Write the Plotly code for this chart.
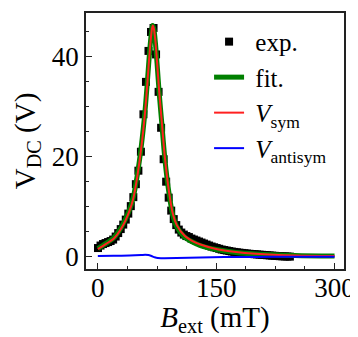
import plotly.graph_objects as go

# Experimental data (B in mT, V_DC in V)
exp_B = [0.2, 3.4, 6.6, 9.8, 13.0, 16.2, 19.4, 22.6, 25.8, 29.0, 32.2, 35.4, 38.6, 41.8,
         45.0, 48.2, 51.4, 54.6, 57.8, 61.0, 64.2, 67.4, 70.6, 73.8, 77.0, 80.2, 83.4,
         86.6, 89.8, 93.0, 96.2, 99.4, 102.6, 105.8, 109.0, 112.2, 115.4, 118.6, 121.8,
         125.0, 128.2, 131.4, 134.6, 137.8, 141.0, 144.2, 147.4, 150.6, 153.8, 157.0,
         160.2, 163.4, 166.6, 169.8, 173.0, 176.2, 179.4, 182.6, 185.8, 189.0, 192.2,
         195.4, 198.6, 201.8, 205.0, 208.2, 211.4, 214.6, 217.8, 221.0, 224.2, 227.4,
         230.6, 233.8, 237.0, 240.2, 243.4]
exp_V = [1.7, 2.2, 2.5, 2.7, 2.9, 3.1, 3.4, 4.0, 4.7, 5.5, 6.4, 7.4, 8.6, 10.1,
         11.9, 14.5, 17.2, 21.0, 28.5, 35.0, 41.2, 45.0, 45.8, 40.5, 33.0, 25.8, 19.5,
         15.0, 11.8, 9.2, 7.5, 6.3, 5.4, 4.8, 4.4, 4.1, 3.9, 3.6, 3.4,
         3.2, 3.0, 2.8, 2.6, 2.4, 2.2, 2.0, 1.85, 1.7, 1.55, 1.4,
         1.3, 1.2, 1.1, 1.0, 0.92, 0.85, 0.78, 0.72, 0.66, 0.6, 0.55,
         0.5, 0.46, 0.42, 0.38, 0.34, 0.3, 0.26, 0.22, 0.18, 0.14, 0.1,
         0.07, 0.04, 0.02, 0.0, -0.02]

# Fit (total) and symmetric component
fit_B = [0, 10, 20, 30, 40, 45, 50, 55, 60, 63, 66, 68, 69.5, 71, 73, 75, 78, 81, 85,
         90, 95, 100, 110, 120, 130, 150, 175, 200, 250, 300]
fit_V = [1.6, 2.6, 3.7, 5.9, 9.3, 11.9, 16.3, 22.0, 29.5, 35.5, 41.8, 44.9, 46.3, 45.6,
         42.8, 38.8, 32.3, 26.8, 19.5, 12.9, 8.3, 6.0, 3.9, 2.9, 2.2, 1.4, 0.8, 0.5, 0.2, 0.1]
sym_V = [1.5, 2.5, 3.55, 5.7, 9.1, 11.7, 16.0, 21.7, 29.2, 35.2, 41.6, 44.9, 46.3, 45.7,
         43.1, 39.1, 32.6, 27.1, 19.8, 13.2, 8.6, 6.3, 4.15, 3.1, 2.4, 1.5, 0.9, 0.55, 0.2, 0.1]

# Antisymmetric component
anti_B = [0, 20, 40, 55, 60, 64, 68, 72, 76, 80, 100, 130, 160, 200, 250, 300]
anti_V = [0.1, 0.15, 0.2, 0.3, 0.35, 0.3, 0.1, -0.15, -0.3, -0.33, -0.3, -0.2, -0.12, -0.08, -0.05, -0.05]

x_ticks = [0, 150, 300]
y_ticks = [0, 20, 40]

FONT = "Liberation Serif, Times New Roman, serif"
NB = "\u00a0"

fig = go.Figure()
fig.add_trace(go.Scatter(x=exp_B, y=exp_V, mode="markers", name=NB + "exp.",
                         marker=dict(symbol="square", size=8, color="black")))
fig.add_trace(go.Scatter(x=fit_B, y=fit_V, mode="lines", name=NB + "fit.",
                         line=dict(color="#008000", width=5, shape="spline", smoothing=0.8)))
fig.add_trace(go.Scatter(x=fit_B, y=sym_V, mode="lines", name=NB + "<i>V</i><sub>sym</sub>",
                         line=dict(color="#ff2020", width=2, shape="spline", smoothing=0.8)))
fig.add_trace(go.Scatter(x=anti_B, y=anti_V, mode="lines", name=NB + "<i>V</i><sub>antisym</sub>",
                         line=dict(color="#0000ff", width=2, shape="spline", smoothing=0.6)))

axis_common = dict(
    showgrid=False, zeroline=False, showline=True, mirror=True, automargin=False,
    linecolor="#222", linewidth=1.5, ticks="inside", ticklen=6, tickwidth=1,
    tickcolor="#222", tickfont=dict(family=FONT, size=27, color="black"),
)

fig.update_xaxes(
    **axis_common, range=[-15, 312], tickvals=x_ticks, ticklabelstandoff=-6,
    minor=dict(dtick=37.5, tick0=0, ticks="inside", ticklen=3, tickcolor="#222"),
    title=dict(text="<i>B</i><sub>ext</sub> (mT)", font=dict(family=FONT, size=29, color="black"), standoff=2),
)
fig.update_yaxes(
    **axis_common, range=[-2.5, 48.8], tickvals=y_ticks,
    minor=dict(dtick=5, tick0=0, ticks="inside", ticklen=3, tickcolor="#222"),
    title=dict(text="V<sub>DC</sub> (V)", font=dict(family=FONT, size=29, color="black"), standoff=8),
)

# The page body has an 8px margin, so the figure is sized/offset to compensate.
fig.update_layout(
    width=350, height=329,
    margin=dict(l=78, r=14, t=5, b=68),
    plot_bgcolor="white", paper_bgcolor="white",
    font=dict(family=FONT, color="black"),
    legend=dict(x=0.477, y=0.977, xanchor="left", yanchor="top",
                bgcolor="rgba(0,0,0,0)", font=dict(family=FONT, size=25, color="black"),
                itemwidth=30, tracegroupgap=0),
    showlegend=True,
)

fig.write_html("out.html")
